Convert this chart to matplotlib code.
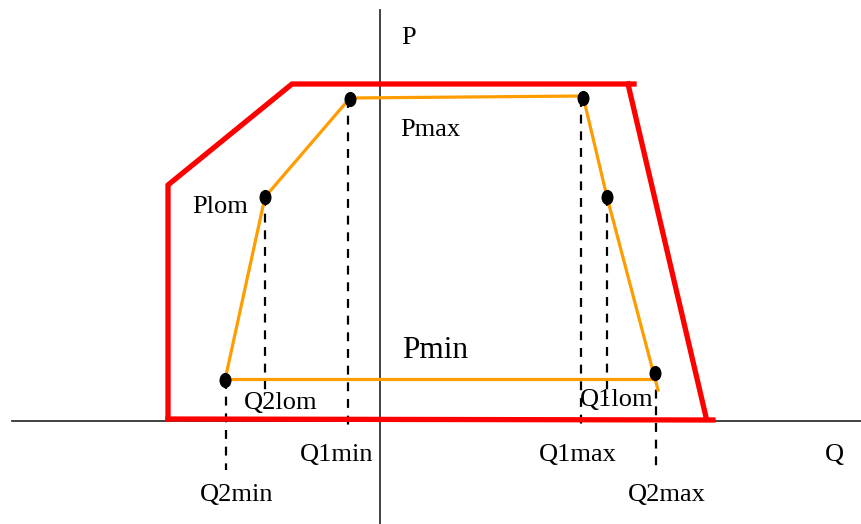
import matplotlib.pyplot as plt
from matplotlib.markers import MarkerStyle
from matplotlib.transforms import Affine2D

# outer (red) capability boundary, in picture coordinates
red_q = [168, 168, 292, 634]
red_p = [419, 185, 84, 84]
red_right_q = [628, 706]
red_right_p = [84, 417]
red_base_q = [168, 713]
red_base_p = [419, 420]

# inner (orange) operating region
orange_q = [225, 265, 350, 583, 607, 658]
orange_p = [380, 197, 98, 96, 197, 390]
orange_base_q = [225, 655]
orange_base_p = [379, 379]

# black nodes
dot_q = [225, 265, 350, 583, 607, 655]
dot_p = [380, 197, 99, 98, 197, 373]

# dashed drop lines (x, top, bottom)
drop_q = [226, 265, 348, 581, 607, 656]
drop_top = [380, 197, 99, 98, 197, 373]
drop_bot = [470, 392, 425, 425, 398, 470]

labels = ['P', 'Pmax', 'Plom', 'Pmin', 'Q2lom', 'Q1min', 'Q2min',
          'Q1max', 'Q1lom', 'Q2max', 'Q']
label_q = [409, 430, 220, 435, 281, 337, 237, 578, 617, 667, 834]
label_p = [38, 130, 207, 350, 403, 455, 495, 455, 400, 495, 455]
label_size = [19, 19, 19, 22.5, 19, 19, 19, 19, 19, 19, 19]

fig = plt.figure(figsize=(8.62, 5.24), dpi=100)
ax = fig.add_axes([0, 0, 1, 1])
ax.set_xlim(0, 862)
ax.set_ylim(524, 0)
ax.axis('off')

# axes of the P-Q plane
ax.plot([12, 862], [421, 421], color='#333333', lw=1.3, zorder=1)
ax.plot([380, 380], [10, 524], color='#333333', lw=1.3, zorder=1)

for q, t, b in zip(drop_q, drop_top, drop_bot):
    ax.plot([q, q], [t, b], color='black', lw=1.6, ls=(0, (4, 3.5)), zorder=2)

ax.plot(red_q, red_p, color='#ff0000', lw=3.8, solid_joinstyle='miter', zorder=3)
ax.plot(red_right_q, red_right_p, color='#ff0000', lw=3.8, zorder=3)
ax.plot(red_base_q, red_base_p, color='#ff0000', lw=3.8, zorder=3)

ax.plot(orange_q, orange_p, color='#ff9c00', lw=2.3, zorder=4)
ax.plot(orange_base_q, orange_base_p, color='#ff9c00', lw=2.3, zorder=4)

# slightly tall elliptical dots
oval = MarkerStyle('o', transform=Affine2D().scale(0.85, 1.1))
ax.plot(dot_q, dot_p, linestyle='none', marker=oval, color='black', ms=9, zorder=5)

for s, q, p, fs in zip(labels, label_q, label_p, label_size):
    ax.text(q, p, s, fontsize=fs, family='Liberation Serif',
            ha='center', va='center', zorder=6)

fig.savefig('out.png', dpi=100)
